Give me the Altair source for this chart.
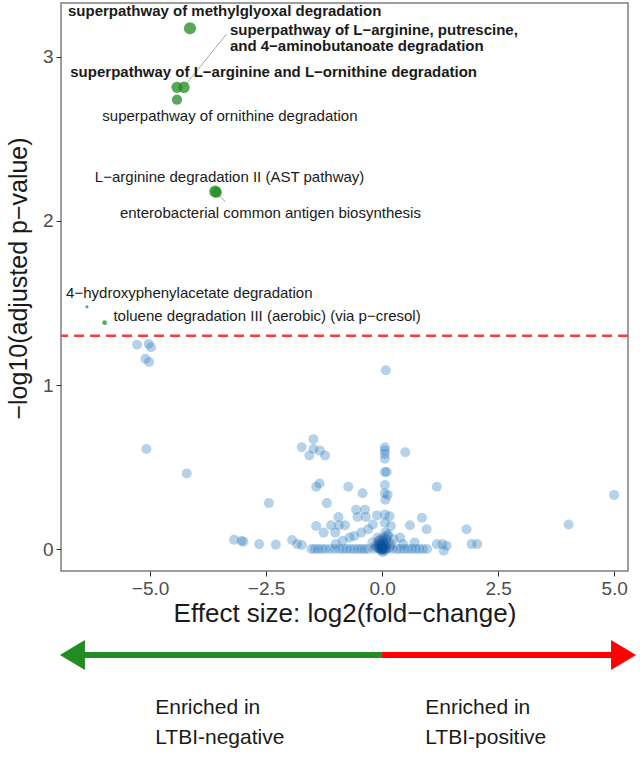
import altair as alt
import pandas as pd

FONT = "Liberation Sans"

# ---- significant (green) pathways ----
sig_x = [-4.14, -4.42, -4.27, -4.42, -3.60, -3.57, -6.36, -5.98]
sig_y = [3.175, 2.815, 2.815, 2.74, 2.18, 2.175, 1.477, 1.38]
sig_size = [150, 125, 135, 105, 140, 120, 10, 22]

# ---- labels ----
lab_text = [
    "superpathway of methylglyoxal degradation",
    "superpathway of L\u2212arginine, putrescine,\nand 4\u2212aminobutanoate degradation",
    "superpathway of L\u2212arginine and L\u2212ornithine degradation",
    "superpathway of ornithine degradation",
    "L\u2212arginine degradation II (AST pathway)",
    "enterobacterial common antigen biosynthesis",
    "4\u2212hydroxyphenylacetate degradation",
    "toluene degradation III (aerobic) (via p\u2212cresol)",
]
lab_x = [-6.77, -3.28, -6.72, -6.03, -6.19, -5.65, -6.81, -5.79]
lab_y = [3.28, 3.165, 2.91, 2.64, 2.27, 2.047, 1.56, 1.42]
lab_bold = [True, True, True, False, False, False, False, False]

# connector segments
seg_x = [-3.35, -3.60]
seg_y = [3.14, 2.18]
seg_x2 = [-4.28, -3.38]
seg_y2 = [2.815, 2.118]

# ---- non-significant (blue) pathways ----
ns_x = [-5.28, -5.03, -4.98, -5.10, -5.02, -5.08, -4.21, -2.44,
        -3.19, -3.03, -2.99, -2.65, -2.29, -1.94, -1.83, -1.73,
        -1.48, -1.73, -1.48, -1.34, -1.23, -1.57,
        -1.42, -1.35, -0.73, -0.42, -1.19,
        0.06, 0.06, 0.06, 0.06, 0.50,
        0.06, 0.10, 0.06, 0.06, 0.12, 0.07,
        1.18, -0.56, -0.37, -0.53, -0.35, -0.94,
        -1.10, -0.93, -0.80, -1.42, -1.26, -1.01,
        -0.11, 0.06, 0.16, 0.06, 0.19, 0.86, 0.60, 0.96,
        0.39, 0.07, 0.13, 1.82, 4.02, 5.00, 0.08,
        1.18, 1.30, 1.39, 1.33, 1.93, 2.05,
        -1.52, -1.45, -1.38, -1.30, -1.22, -1.12, -1.02, -0.92, -0.84, -0.76,
        -0.68, -0.60, -0.52, -0.45, -0.38, -0.31, 0.32, 0.40, 0.48, 0.56,
        0.64, 0.72, 0.80, 0.88, 0.97,
        -1.00, -0.85, -0.60, -0.45, -0.30, 0.25, 0.45, 0.70, -0.20, -0.70]
ns_y = [1.245, 1.25, 1.23, 1.16, 1.14, 0.61, 0.46, 0.28,
        0.057, 0.05, 0.045, 0.03, 0.027, 0.055, 0.03, 0.025,
        0.67, 0.62, 0.61, 0.60, 0.57, 0.57,
        0.38, 0.40, 0.38, 0.34, 0.28,
        0.62, 0.60, 0.58, 0.55, 0.59,
        0.47, 0.47, 0.39, 0.34, 0.33, 0.30,
        0.38, 0.24, 0.24, 0.195, 0.195, 0.195,
        0.145, 0.145, 0.145, 0.14, 0.10, 0.10,
        0.205, 0.21, 0.20, 0.16, 0.14, 0.19, 0.145, 0.12,
        0.07, 0.10, 0.09, 0.12, 0.15, 0.33, 1.09,
        0.03, 0.03, 0.02, -0.01, 0.03, 0.03,
        0.0, 0.0, 0.0, 0.0, 0.0, 0.0, 0.0, 0.0, 0.0, 0.0,
        0.0, 0.0, 0.0, 0.0, 0.0, 0.0, 0.0, 0.0, 0.0, 0.0,
        0.0, 0.0, 0.0, 0.0, 0.0,
        0.03, 0.05, 0.08, 0.10, 0.12, 0.06, 0.03, 0.04, 0.15, 0.07]

# dense core around (0, 0)
core_x = [0.00, 0.02, -0.03, 0.05, -0.06, 0.08, -0.09, 0.10, -0.12, 0.13,
          -0.15, 0.16, -0.18, 0.19, -0.21, 0.22, 0.00, 0.03, -0.04, 0.06,
          -0.07, 0.09, -0.10, 0.12, 0.01, -0.02, 0.04, -0.05, 0.00, 0.02,
          -0.01, 0.07, -0.08, 0.00, 0.01, -0.01, 0.03, -0.03]
core_y = [0.00, 0.01, 0.02, -0.01, 0.00, 0.02, 0.03, 0.00, 0.01, 0.04,
          0.02, 0.01, 0.00, 0.03, 0.04, 0.00, 0.05, 0.07, 0.06, 0.04,
          0.05, 0.06, 0.07, 0.08, -0.02, -0.01, 0.03, 0.03, 0.02, 0.04,
          0.01, 0.00, 0.01, 0.00, 0.00, 0.02, 0.00, 0.00]

threshold = [1.301]

# ---- direction arrow ----
arrow_start = [-6.62, 0.0]
arrow_end = [0.0, 5.15]
arrow_color = ["#228B22", "#FF0000"]
head_x = [-6.62, 5.15]
side_x = [-4.89, 0.93]
side_text = ["Enriched in\nLTBI-negative", "Enriched in\nLTBI-positive"]

xs = alt.Scale(domain=[-6.92, 5.30], nice=False, zero=False)
ys = alt.Scale(domain=[-0.134, 3.329], nice=False, zero=False)

sig_df = pd.DataFrame({"x": sig_x, "y": sig_y, "s": sig_size})
lab_df = pd.DataFrame({"x": lab_x, "y": lab_y, "t": lab_text, "b": lab_bold})
seg_df = pd.DataFrame({"x": seg_x, "y": seg_y, "x2": seg_x2, "y2": seg_y2})
ns_df = pd.DataFrame({"x": ns_x, "y": ns_y})
core_df = pd.DataFrame({"x": core_x, "y": core_y})
thr_df = pd.DataFrame({"y": threshold})
arr_df = pd.DataFrame({"x": arrow_start, "x2": arrow_end, "c": arrow_color})
headL_df = pd.DataFrame({"x": [head_x[0]]})
headR_df = pd.DataFrame({"x": [head_x[1]]})
side_df = pd.DataFrame({"x": side_x, "t": side_text})

x_axis = alt.Axis(values=[-5, -2.5, 0, 2.5, 5], format=".1f",
                  title="Effect size: log2(fold\u2212change)",
                  titleFontSize=26, titleY=42, titleBaseline="middle")
y_axis = alt.Axis(values=[0, 1, 2, 3], format="d",
                  title="\u2212log10(adjusted p\u2212value)", titleFontSize=25,
                  titleX=-43, titleY=275, titleAngle=270,
                  titleAlign="center", titleBaseline="middle")

ns_layer = alt.Chart(ns_df).mark_circle(size=100, color="#2f7fc1", opacity=0.35).encode(
    x=alt.X("x:Q", scale=xs, axis=x_axis),
    y=alt.Y("y:Q", scale=ys, axis=y_axis),
)
core_layer = alt.Chart(core_df).mark_circle(size=100, color="#08519c", opacity=0.25).encode(
    x=alt.X("x:Q", scale=xs), y=alt.Y("y:Q", scale=ys))

thr_layer = alt.Chart(thr_df).mark_rule(color="#ff3b3b", strokeWidth=2.5, strokeDash=[10, 6]).encode(
    y=alt.Y("y:Q", scale=ys))

seg_layer = alt.Chart(seg_df).mark_rule(color="#a8a8a8", strokeWidth=1).encode(
    x=alt.X("x:Q", scale=xs), y=alt.Y("y:Q", scale=ys), x2="x2:Q", y2="y2:Q")

sig_layer = alt.Chart(sig_df).mark_circle(color="#228B22", opacity=0.75).encode(
    x=alt.X("x:Q", scale=xs), y=alt.Y("y:Q", scale=ys),
    size=alt.Size("s:Q", scale=None))

lab_bold_layer = alt.Chart(lab_df).transform_filter("datum.b").mark_text(
    align="left", baseline="middle", font=FONT, fontSize=15, fontWeight="bold",
    color="#1a1a1a", lineBreak="\n", lineHeight=16).encode(
    x=alt.X("x:Q", scale=xs), y=alt.Y("y:Q", scale=ys), text="t:N")
lab_norm_layer = alt.Chart(lab_df).transform_filter("!datum.b").mark_text(
    align="left", baseline="middle", font=FONT, fontSize=15,
    color="#1a1a1a").encode(
    x=alt.X("x:Q", scale=xs), y=alt.Y("y:Q", scale=ys), text="t:N")

arr_layer = alt.Chart(arr_df).mark_rule(strokeWidth=6).encode(
    x=alt.X("x:Q", scale=xs), x2="x2:Q", y=alt.value(652),
    color=alt.Color("c:N", scale=None))
headL = alt.Chart(headL_df).mark_point(
    shape="M -1 0 L 0.667 -1 L 0.667 1 Z", filled=True, size=900, opacity=1,
    color="#228B22").encode(x=alt.X("x:Q", scale=xs), y=alt.value(652))
headR = alt.Chart(headR_df).mark_point(
    shape="M 1 0 L -0.667 -1 L -0.667 1 Z", filled=True, size=900, opacity=1,
    color="#FF0000").encode(x=alt.X("x:Q", scale=xs), y=alt.value(652))
side_layer = alt.Chart(side_df).mark_text(
    align="left", baseline="middle", font=FONT, fontSize=21, color="#1a1a1a",
    lineBreak="\n", lineHeight=30).encode(
    x=alt.X("x:Q", scale=xs), y=alt.value(705), text="t:N")

chart = alt.layer(
    ns_layer, core_layer, thr_layer, seg_layer, sig_layer,
    lab_bold_layer, lab_norm_layer, arr_layer, headL, headR, side_layer
).properties(
    width=567, height=568,
    autosize=alt.AutoSizeParams(type="none"),
    padding={"left": 61, "top": 3, "right": 15, "bottom": 196},
    background="white",
).configure_view(
    stroke="#7f7f7f", strokeWidth=1.5
).configure_axis(
    grid=False, domain=False, labelFont=FONT, titleFont=FONT,
    labelFontSize=19, labelColor="#4d4d4d", tickColor="#333333", tickSize=5,
    labelPadding=3, titleFontWeight="normal", titleColor="#1a1a1a",
)

chart.save("out.html", embed_options={"renderer": "svg", "actions": False})
